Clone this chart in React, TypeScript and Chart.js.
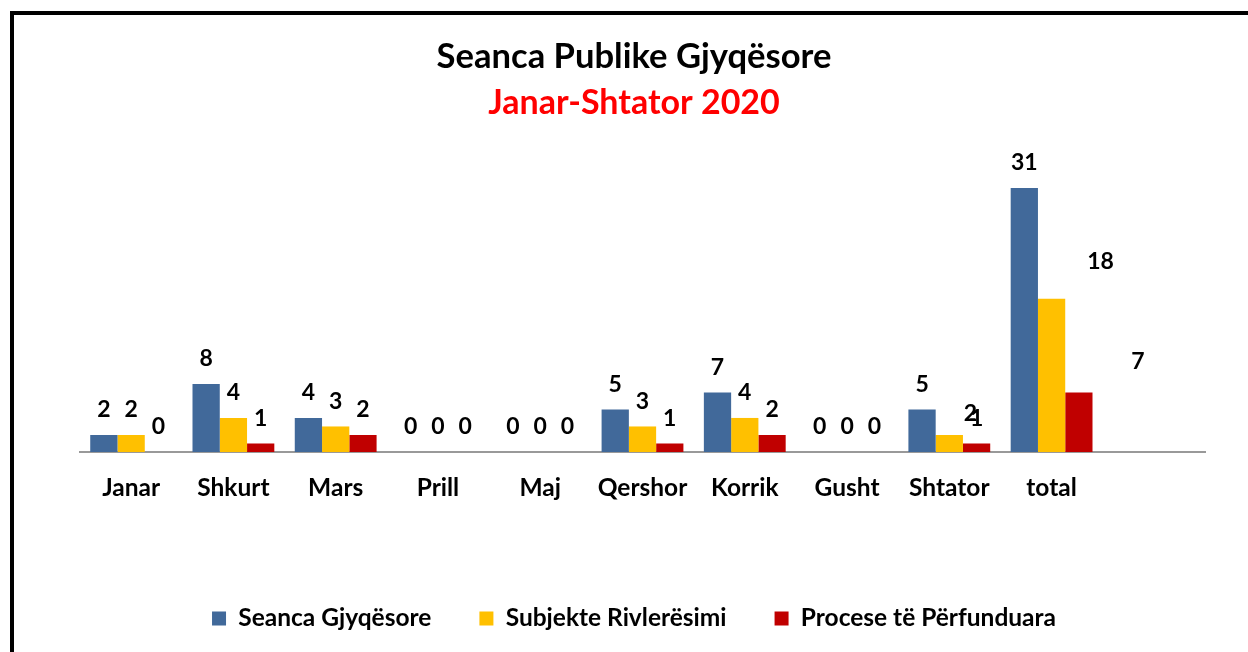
import React, { useEffect, useRef } from "react";
import { Chart, registerables } from "chart.js";

Chart.register(...registerables);

const categories = ["Janar", "Shkurt", "Mars", "Prill", "Maj", "Qershor", "Korrik", "Gusht", "Shtator", "total", ""];
const seancaGjyqesore = [2, 8, 4, 0, 0, 5, 7, 0, 5, 31, null];
const subjekteRivleresimi = [2, 4, 3, 0, 0, 3, 4, 0, 2, 18, null];
const proceseTePerfunduara = [0, 1, 2, 0, 0, 1, 2, 0, 1, 7, null];
const seriesNames = ["Seanca Gjyqësore", "Subjekte Rivlerësimi", "Procese të Përfunduara"];
const seriesColors = ["#41699A", "#FFC000", "#C00000"];

const titleText = "Seanca Publike Gjyqësore";
const subtitleText = "Janar-Shtator 2020";

// manual label nudges (dataset:index -> [dx, dy]) as in the reference
const labelNudges: Record<string, [number, number]> = {
  "1:8": [21, 4],
  "1:9": [49, -12],
  "2:9": [59, -6],
};

const FONT = "Lato, 'Open Sans', sans-serif";

const dataLabelPlugin = {
  id: "dataLabels",
  afterDatasetsDraw(chart: any) {
    const ctx = chart.ctx;
    ctx.save();
    ctx.font = `bold 23px ${FONT}`;
    ctx.fillStyle = "#000";
    ctx.textAlign = "center";
    ctx.textBaseline = "middle";
    chart.data.datasets.forEach((ds: any, di: number) => {
      const meta = chart.getDatasetMeta(di);
      meta.data.forEach((el: any, i: number) => {
        const v = ds.data[i];
        if (v === null || v === undefined) return;
        const n = labelNudges[`${di}:${i}`] || [0, 0];
        ctx.fillText(String(v), el.x + n[0], el.y - 25 + n[1]);
      });
    });
    ctx.restore();
  },
};

export default function App() {
  const ref = useRef<HTMLCanvasElement>(null);
  useEffect(() => {
    if (!ref.current) return;
    const chart = new Chart(ref.current, {
      type: "bar",
      data: {
        labels: categories,
        datasets: [seancaGjyqesore, subjekteRivleresimi, proceseTePerfunduara].map((d, i) => ({
          label: seriesNames[i],
          data: d,
          backgroundColor: seriesColors[i],
          borderWidth: 0,
          barPercentage: 1,
          categoryPercentage: 0.8,
        })),
      },
      options: {
        responsive: false,
        animation: false,
        maintainAspectRatio: false,
        layout: { padding: { left: 63, right: 43, top: 0, bottom: 11.25 } },
        plugins: {
          tooltip: { enabled: false },
          title: {
            display: true,
            text: titleText,
            color: "#000",
            font: { family: FONT, size: 34.6, weight: "bold" },
            padding: { top: 36.2, bottom: 0 },
          },
          subtitle: {
            display: true,
            text: subtitleText,
            color: "#FF0000",
            font: { family: FONT, size: 34, weight: "bold" },
            padding: { top: 4.5, bottom: 31 },
          },
          legend: {
            position: "bottom",
            labels: {
              color: "#000",
              font: { family: FONT, size: 24.5, weight: "bold" },
              boxWidth: 14,
              boxHeight: 14,
              padding: 48,
            },
          },
        },
        scales: {
          x: {
            grid: { display: false, drawTicks: false },
            border: { display: true, color: "#999", width: 2 },
            ticks: {
              color: "#000",
              font: { family: FONT, size: 24.5, weight: "bold" },
              padding: 21,
              maxRotation: 0,
              autoSkip: false,
            },
            afterFit: (scale: any) => {
              scale.height = 106.25;
            },
          },
          y: {
            display: true,
            min: 0,
            max: 35,
            grid: { display: false, drawTicks: false },
            border: { display: false },
            ticks: { display: false },
            afterFit: (scale: any) => {
              scale.width = 17;
            },
          },
        },
      },
      plugins: [dataLabelPlugin],
    });
    return () => chart.destroy();
  }, []);
  return (
    <div style={{ position: "fixed", left: 0, top: 0, width: 1248, height: 652, overflow: "hidden", background: "#fff" }}>
      <div
        style={{
          position: "absolute",
          left: 10,
          top: 11,
          width: 1300,
          height: 700,
          border: "4px solid #000",
          boxSizing: "border-box",
        }}
      />
      <canvas ref={ref} width={1248} height={652} style={{ position: "absolute", left: 0, top: 0, width: 1248, height: 652 }} />
    </div>
  );
}
